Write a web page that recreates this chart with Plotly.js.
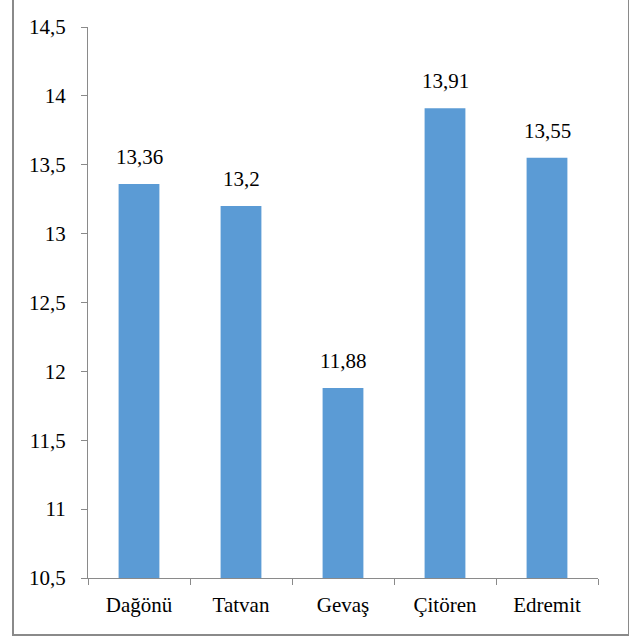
<!DOCTYPE html>
<html><head><meta charset="utf-8">
<script src="https://cdn.plot.ly/plotly-3.0.1.min.js"></script>
<style>
html,body{margin:0;padding:0;background:#fff;}
#wrap{position:relative;width:629px;height:636px;}
#chart{position:absolute;left:0;top:0;width:629px;height:636px;}
#frame{position:absolute;left:12px;top:-4px;width:614px;height:636px;border:2px solid #8a8a8a;pointer-events:none;}
</style></head>
<body>
<div id="wrap"><div id="chart"></div><div id="frame"></div></div>
<script>
const categories = ["Dağönü", "Tatvan", "Gevaş", "Çitören", "Edremit"];
const values = [13.36, 13.2, 11.88, 13.91, 13.55];
const labels = ["13,36", "13,2", "11,88", "13,91", "13,55"];
const yTicks = [10.5, 11, 11.5, 12, 12.5, 13, 13.5, 14, 14.5];
const yTickText = ["10,5", "11", "11,5", "12", "12,5", "13", "13,5", "14", "14,5"];

const font = {family: "Liberation Serif", size: 21, color: "#000"};
const axisColor = "#8a8a8a";

const trace = {
  type: "bar", x: categories, y: values,
  marker: {color: "#5B9BD5"}, hoverinfo: "skip"
};
const annotations = categories.map((c, i) => ({
  x: c, y: values[i], text: labels[i], showarrow: false,
  xref: "x", yref: "y", yanchor: "bottom", yshift: 13, font: font
}));
const layout = {
  width: 629, height: 636,
  margin: {l: 88, r: 31, t: 27, b: 58, pad: 0},
  paper_bgcolor: "#fff", plot_bgcolor: "#fff",
  font: font, showlegend: false, bargap: 0.6,
  separators: ", ",
  xaxis: {
    type: "category", showline: true, linecolor: axisColor, linewidth: 1,
    ticks: "outside", tickson: "boundaries", ticklen: 6, tickcolor: axisColor,
    showgrid: false, zeroline: false, tickfont: font, ticklabelstandoff: 8
  },
  yaxis: {
    range: [10.5, 14.5], tickvals: yTicks, ticktext: yTickText,
    showline: true, linecolor: axisColor, linewidth: 1,
    ticks: "outside", ticklen: 6, tickcolor: axisColor,
    showgrid: false, zeroline: false, tickfont: font, ticklabelstandoff: 11
  },
  annotations: annotations
};
Plotly.newPlot("chart", [trace], layout, {staticPlot: true, displayModeBar: false});
</script>
</body></html>
